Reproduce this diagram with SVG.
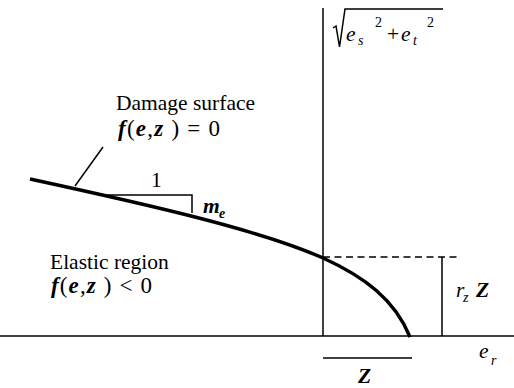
<svg xmlns="http://www.w3.org/2000/svg" width="514" height="388" viewBox="0 0 514 388">
<style>
.ln{stroke:#000;stroke-width:1.5;fill:none}
.t{font-family:"Liberation Serif","DejaVu Serif",serif;font-size:21.5px;fill:#000}
.f{font-size:23px}
.bi{font-weight:bold;font-style:italic}
.i{font-style:italic}
.sub{font-size:14px}
</style>
<rect width="514" height="388" fill="#fff"/>
<g id="connectors">
<line class="ln" x1="323" y1="8" x2="323" y2="336"/>
<line class="ln" x1="0" y1="336" x2="514" y2="336"/>
<path d="M30,179 C150,205 260,230 323,258 C365,277 395,300 410,337" stroke="#000" stroke-width="3.5" fill="none"/>
<line class="ln" x1="75" y1="186" x2="103" y2="147"/>
<polyline class="ln" points="105,195 192,195 192,213"/>
<line class="ln" x1="323" y1="257" x2="458" y2="257" stroke-dasharray="7,4.5"/>
<line class="ln" x1="442" y1="257" x2="442" y2="336"/>
<line class="ln" x1="323" y1="358" x2="412" y2="358"/>
<polyline class="ln" points="333,28 336,26 339.5,47 345,9 443,9"/>
</g>
<g id="damage">
<text class="t" x="116" y="110">Damage surface</text>
<text class="t f" x="118" y="136" textLength="102"><tspan class="bi">f</tspan>(<tspan class="bi">e</tspan>,<tspan class="bi">z</tspan> ) = 0</text>
</g>
<g id="elastic">
<text class="t" x="50" y="269">Elastic region</text>
<text class="t f" x="51" y="293" textLength="101"><tspan class="bi">f</tspan>(<tspan class="bi">e</tspan>,<tspan class="bi">z</tspan> ) &lt; 0</text>
</g>
<g id="slope">
<text class="t" x="151" y="187" font-size="19">1</text>
<text class="t bi" x="203" y="213">m</text>
<text class="t bi sub" x="219" y="218">e</text>
</g>
<g id="yaxis-label">
<text class="t i" x="346" y="41">e</text>
<text class="t i sub" x="358" y="45">s</text>
<text class="t sub" x="375" y="27">2</text>
<text class="t" x="387" y="41">+</text>
<text class="t i" x="401" y="41">e</text>
<text class="t i sub" x="413" y="45">t</text>
<text class="t sub" x="427" y="27">2</text>
</g>
<g id="rz">
<text class="t i" x="456" y="297">r</text>
<text class="t i sub" x="463" y="302">z</text>
<text class="t bi" x="476" y="297">Z</text>
</g>
<g id="er">
<text class="t i" x="479" y="358">e</text>
<text class="t i sub" x="491" y="365">r</text>
</g>
<g id="zlabel">
<text class="t bi" x="358" y="383" font-size="20">Z</text>
</g>
</svg>
